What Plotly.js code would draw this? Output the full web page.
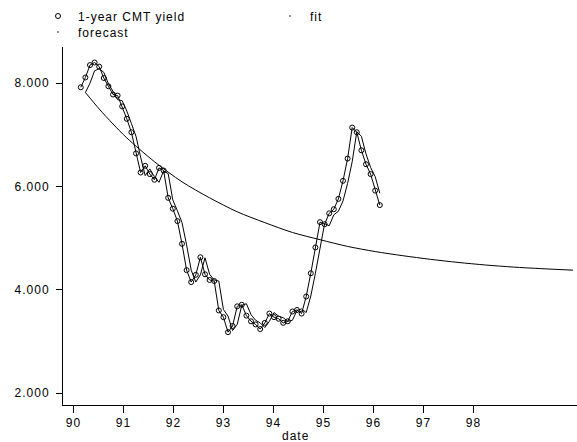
<!DOCTYPE html>
<html>
<head>
<meta charset="utf-8">
<script src="https://cdn.plot.ly/plotly-3.0.1.min.js"></script>
<style>
  html, body { margin: 0; padding: 0; background: #fff; }
  #chart { width: 577px; height: 442px; }
  .main-svg text { letter-spacing: 1px; }
</style>
</head>
<body>
<div id="chart"></div>
<script>
// Monthly 1-year CMT yield, Jan 1990 .. Jun 1995
const yieldVals = [
  7.92, 8.11, 8.35, 8.40, 8.32, 8.10, 7.94, 7.78, 7.76, 7.55, 7.31, 7.05,
  6.64, 6.27, 6.40, 6.24, 6.13, 6.36, 6.31, 5.78, 5.57, 5.33, 4.89, 4.38,
  4.15, 4.29, 4.63, 4.30, 4.19, 4.17, 3.60, 3.47, 3.18, 3.30, 3.68, 3.71,
  3.50, 3.39, 3.33, 3.24, 3.36, 3.54, 3.47, 3.44, 3.36, 3.39, 3.58, 3.61,
  3.54, 3.87, 4.32, 4.82, 5.31, 5.27, 5.48, 5.56, 5.76, 6.11, 6.54, 7.14,
  7.05, 6.70, 6.43, 6.24, 5.92, 5.64
];
// One-step fit, Feb 1990 .. Jun 1995 (month index 1..65)
const fitVals = [
  7.82, 8.00, 8.24, 8.28, 8.21, 7.99, 7.84, 7.68, 7.66, 7.46, 7.22,
  6.97, 6.57, 6.21, 6.34, 6.19, 6.08, 6.30, 6.25, 5.74, 5.53, 5.30, 4.87,
  4.38, 4.15, 4.29, 4.62, 4.30, 4.19, 4.17, 3.62, 3.49, 3.21, 3.33, 3.70,
  3.73, 3.52, 3.41, 3.36, 3.27, 3.39, 3.56, 3.49, 3.46, 3.39, 3.41, 3.60,
  3.63, 3.56, 3.88, 4.32, 4.81, 5.28, 5.24, 5.45, 5.52, 5.72, 6.06, 6.48,
  7.06, 6.97, 6.63, 6.37, 6.19, 5.87
];
// Forecast read at selected month indices (0 = Jan 1990)
const forecastMonths = [1, 4, 7, 10, 16, 22, 28, 34, 40, 46, 52, 58, 64, 70, 76, 82, 88, 94, 100, 107];
const forecastVals   = [7.82, 7.50, 7.21, 6.94, 6.48, 6.09, 5.78, 5.51, 5.30, 5.11, 4.97, 4.84, 4.74, 4.66, 4.59, 4.53, 4.48, 4.44, 4.41, 4.38];

const xTickVals = [90, 91, 92, 93, 94, 95, 96, 97, 98];
const yTickVals = [2, 4, 6, 8];

// date axis units: first month and step between months as drawn on the axis
const dateStart = 90.146, dateStep = 0.092;
const toDate = m => dateStart + m * dateStep;

const yieldDates = yieldVals.map((_, i) => toDate(i));
const fitDates = fitVals.map((_, i) => toDate(i + 1));
const forecastDates = forecastMonths.map(toDate);

const FONT = 'Liberation Sans, Arial, Helvetica, sans-serif';

const traces = [
  { x: forecastDates, y: forecastVals, mode: 'lines', line: { color: '#000', width: 1, shape: 'spline', smoothing: 0.8 }, showlegend: false, hoverinfo: 'skip' },
  { x: fitDates, y: fitVals, mode: 'lines', line: { color: '#000', width: 1 }, showlegend: false, hoverinfo: 'skip' },
  { x: yieldDates, y: yieldVals, mode: 'lines+markers', line: { color: '#000', width: 1 },
    marker: { symbol: 'circle-open', size: 5, color: '#000', line: { width: 1, color: '#000' } }, showlegend: false },
  // legend entries
  { x: [null], y: [null], name: '1-year CMT yield', mode: 'markers', legend: 'legend',
    marker: { symbol: 'circle-open', size: 5, color: '#000', line: { width: 1, color: '#000' } } },
  { x: [null], y: [null], name: 'fit', mode: 'markers', legend: 'legend2',
    marker: { symbol: 'circle', size: 2, color: '#666' } },
  { x: [null], y: [null], name: 'forecast', mode: 'markers', legend: 'legend3',
    marker: { symbol: 'circle', size: 2, color: '#666' } }
];

const legendBase = {
  xref: 'container', yref: 'container', xanchor: 'left', yanchor: 'top',
  orientation: 'h', bgcolor: 'rgba(0,0,0,0)', borderwidth: 0,
  entrywidth: 150, entrywidthmode: 'pixels',
  font: { family: FONT, size: 12, color: '#000' }
};

const layout = {
  width: 577, height: 442,
  margin: { l: 63, r: 0, t: 47, b: 37, pad: 0, autoexpand: false },
  paper_bgcolor: '#fff', plot_bgcolor: '#fff',
  font: { family: FONT, size: 12, color: '#000' },
  showlegend: true,
  legend:  Object.assign({}, legendBase, { x: 38 / 577, y: 1 - 1.5 / 442 }),
  legend2: Object.assign({}, legendBase, { x: 270 / 577, y: 1 - 1.5 / 442 }),
  legend3: Object.assign({}, legendBase, { x: 38 / 577, y: 1 - 17.5 / 442 }),
  xaxis: {
    range: [89.79, 100.07], tickvals: xTickVals, ticktext: xTickVals.map(String),
    ticks: 'outside', ticklen: 7, tickwidth: 1, tickcolor: '#000',
    showline: true, linecolor: '#000', linewidth: 1, showgrid: false, zeroline: false,
    automargin: false,
    tickfont: { family: FONT, size: 12, color: '#000' }
  },
  yaxis: {
    range: [1.77, 8.70], tickvals: yTickVals, tickformat: '.3f',
    ticks: 'outside', ticklen: 6, tickwidth: 1, tickcolor: '#000',
    showline: true, linecolor: '#000', linewidth: 1, showgrid: false, zeroline: false,
    ticklabelstandoff: 4, automargin: false,
    tickfont: { family: FONT, size: 12, color: '#000' }
  },
  annotations: [
    { text: 'date', xref: 'paper', yref: 'paper', x: (296 - 63) / 514, y: 0,
      xanchor: 'center', yanchor: 'middle', yshift: -31, showarrow: false,
      font: { family: FONT, size: 12, color: '#000' } }
  ]
};

Plotly.newPlot('chart', traces, layout, { displayModeBar: false, staticPlot: true });
</script>
</body>
</html>
